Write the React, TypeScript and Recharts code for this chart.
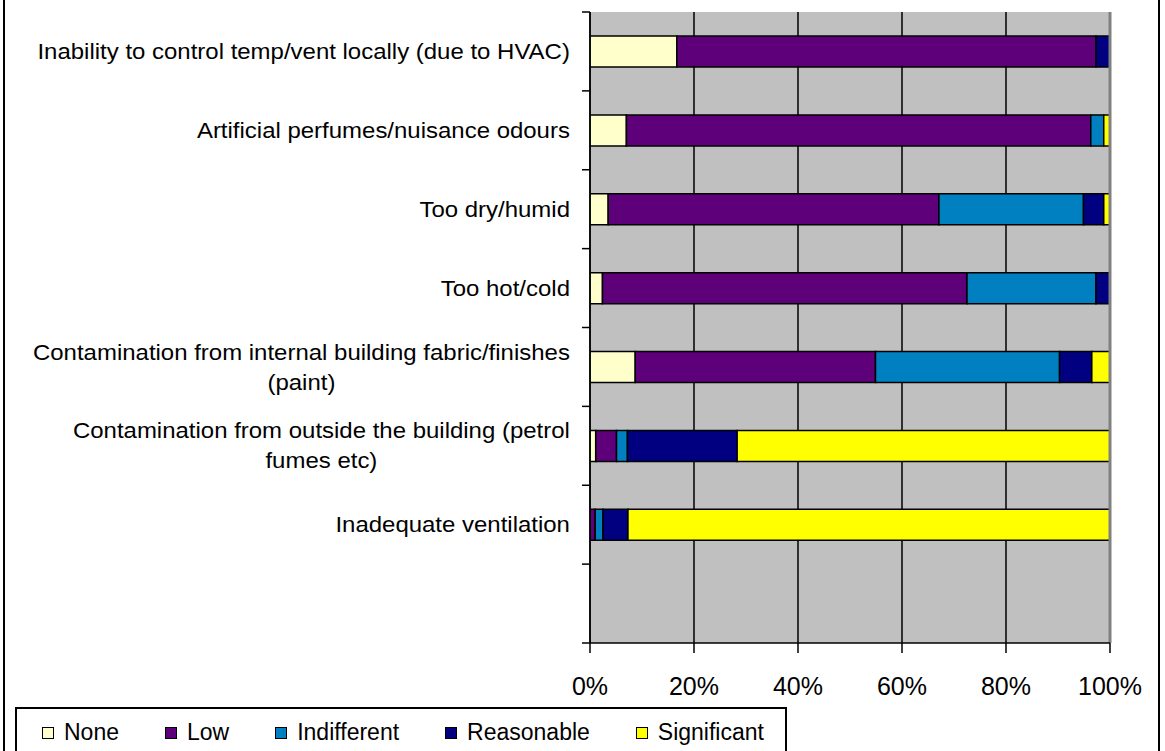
import React from 'react';
import { BarChart, Bar, XAxis, YAxis, CartesianGrid, ReferenceLine } from 'recharts';

// ── Data ─────────────────────────────────────────────────────────────────────

const categories = [
  'Inability to control temp/vent locally (due to HVAC)',
  'Artificial perfumes/nuisance odours',
  'Too dry/humid',
  'Too hot/cold',
  'Contamination from internal building fabric/finishes\n(paint)',
  'Contamination from outside the building (petrol\nfumes etc)',
  'Inadequate ventilation',
  '',
];

const none = [16.7, 7.0, 3.5, 2.4, 8.7, 1.1, 0, null];
const low = [80.6, 89.3, 63.6, 70.1, 46.2, 4.0, 1.0, null];
const indifferent = [0, 2.5, 27.8, 24.8, 35.4, 2.1, 1.5, null];
const reasonable = [2.7, 0, 3.9, 2.7, 6.2, 21.1, 4.8, null];
const significant = [0, 1.2, 1.2, 0, 3.5, 71.7, 92.7, null];

const xTicks = [0, 20, 40, 60, 80, 100];

const series = [
  { key: 'none', name: 'None', color: '#FFFFCC', values: none },
  { key: 'low', name: 'Low', color: '#5E0079', values: low },
  { key: 'indifferent', name: 'Indifferent', color: '#0080C0', values: indifferent },
  { key: 'reasonable', name: 'Reasonable', color: '#000080', values: reasonable },
  { key: 'significant', name: 'Significant', color: '#FFFF00', values: significant },
];

const data = categories.map((name, i) => {
  const row: Record<string, string | number | null> = { name };
  series.forEach((s) => {
    row[s.key] = s.values[i];
  });
  return row;
});

// ── Layout / style ───────────────────────────────────────────────────────────

const W = 1165;
const H = 751;
const MARGIN = { top: 12, right: 55, bottom: 48, left: 0 };
const X_AXIS_H = 60;
const PLOT_H = H - MARGIN.top - MARGIN.bottom - X_AXIS_H;
const BAND = PLOT_H / categories.length;
const TICK_GAP = 20;

const FONT = '"Liberation Sans", Arial, sans-serif';
const LABEL_SIZE = 22;
const STRETCH = 1.09;
const LINE_H = 30;

let ctx: CanvasRenderingContext2D | null = null;
const measure = (t: string) => {
  if (!ctx) ctx = document.createElement('canvas').getContext('2d');
  if (!ctx) return t.length * LABEL_SIZE * 0.5;
  ctx.font = `${LABEL_SIZE}px ${FONT}`;
  return ctx.measureText(t).width;
};

// Excel style labels: right aligned block, lines centred inside it.
// Also draws the small tick marks at the band edges (Excel puts them between categories).
const CategoryTick = ({ x, y, payload, index }: any) => {
  const lines = String(payload.value).split('\n');
  const axisX = x + TICK_GAP;
  const isLast = index === categories.length - 1;
  const maxW = lines[0] ? Math.max(...lines.map(measure)) : 0;
  return (
    <g>
      <line x1={axisX - 8} x2={axisX} y1={y - BAND / 2} y2={y - BAND / 2} stroke="#000" strokeWidth={1.5} />
      {isLast && (
        <line x1={axisX - 8} x2={axisX} y1={y + BAND / 2} y2={y + BAND / 2} stroke="#000" strokeWidth={1.5} />
      )}
      {lines[0] && (
        <g transform={`translate(${x},${y}) scale(${STRETCH},1)`}>
          {lines.map((l, i) => (
            <text
              key={i}
              x={-maxW / 2}
              y={(i - (lines.length - 1) / 2) * LINE_H}
              textAnchor="middle"
              dominantBaseline="central"
              fontSize={LABEL_SIZE}
              fontFamily={FONT}
              fill="#000"
            >
              {l}
            </text>
          ))}
        </g>
      )}
    </g>
  );
};

const LegendBox = () => (
  <div
    style={{
      position: 'absolute',
      left: 15,
      top: 707,
      width: 772,
      height: 70,
      border: '2px solid #000',
      background: '#fff',
      boxSizing: 'border-box',
      display: 'flex',
      alignItems: 'flex-start',
      paddingLeft: 25,
      paddingTop: 10,
      gap: 46,
      fontFamily: FONT,
      fontSize: 23,
      color: '#000',
    }}
  >
    {series.map((s) => (
      <div key={s.key} style={{ display: 'flex', alignItems: 'center', whiteSpace: 'nowrap' }}>
        <span
          style={{
            display: 'inline-block',
            width: 10,
            height: 10,
            background: s.color,
            border: '1.5px solid #000',
            marginRight: 10,
          }}
        />
        <span>{s.name}</span>
      </div>
    ))}
  </div>
);

export default function App() {
  return (
    <div
      style={{
        position: 'absolute',
        left: 0,
        top: 0,
        width: W,
        height: H,
        background: '#fff',
        overflow: 'hidden',
      }}
    >
      {/* outer chart frame, cut off at top and bottom */}
      <div
        style={{
          position: 'absolute',
          left: 3,
          top: -10,
          width: 1157,
          height: 800,
          borderLeft: '2px solid #000',
          borderRight: '2px solid #000',
          boxSizing: 'border-box',
        }}
      />
      <div style={{ position: 'absolute', left: 0, top: 0 }}>
        <BarChart width={W} height={H} data={data} layout="vertical" margin={MARGIN} barSize={31}>
          <CartesianGrid
            horizontal={false}
            stroke="#000"
            strokeWidth={1.5}
            fill="#C0C0C0"
            fillOpacity={1}
          />
          <XAxis
            type="number"
            domain={[0, 100]}
            ticks={xTicks}
            tickFormatter={(v) => `${v}%`}
            tick={{ fontSize: 25, fill: '#000', fontFamily: FONT }}
            tickLine={{ stroke: '#000', strokeWidth: 1.5 }}
            tickSize={10}
            tickMargin={24}
            axisLine={{ stroke: '#000', strokeWidth: 1.5 }}
            height={X_AXIS_H}
            allowDataOverflow
          />
          <YAxis
            type="category"
            dataKey="name"
            width={590}
            tick={<CategoryTick />}
            tickLine={false}
            tickSize={0}
            tickMargin={TICK_GAP}
            axisLine={{ stroke: '#000', strokeWidth: 1.5 }}
            interval={0}
          />
          <ReferenceLine x={100} stroke="#808080" strokeWidth={3} />
          {series.map((s) => (
            <Bar
              key={s.key}
              dataKey={s.key}
              name={s.name}
              stackId="a"
              fill={s.color}
              stroke="#000"
              strokeWidth={1.5}
              isAnimationActive={false}
            />
          ))}
        </BarChart>
      </div>
      <LegendBox />
    </div>
  );
}
